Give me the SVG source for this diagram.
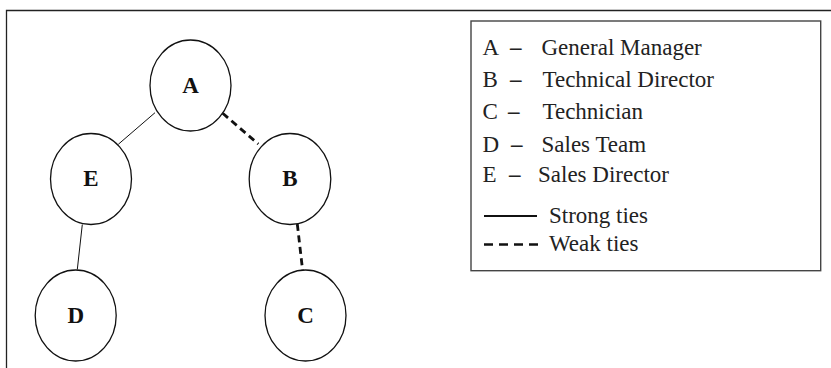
<svg xmlns="http://www.w3.org/2000/svg" width="831" height="368" viewBox="0 0 831 368">
<style>
.frame{fill:none;stroke:#222;stroke-width:1.3}
.node{fill:#fff;stroke:#111;stroke-width:1.3}
.strong{stroke:#111;stroke-width:1;fill:none}
.weak{stroke:#111;stroke-width:2.8;fill:none;stroke-dasharray:7 4.5}
.lbox{fill:#fff;stroke:#444;stroke-width:1.4}
</style>
<rect width="831" height="368" fill="#fff"/>
<path class="frame" d="M6.5,368 V10.5 H831"/>
<g id="connectors">
<line class="strong" x1="155" y1="112.7" x2="118.3" y2="144.3"/>
<line class="strong" x1="82.3" y1="224.5" x2="77.3" y2="269.5"/>
<line class="weak" x1="222.7" y1="113.3" x2="258.3" y2="144"/>
<line class="weak" x1="297.3" y1="224" x2="302.7" y2="271"/>
</g>
<g font-family="Liberation Serif, serif" font-weight="bold" font-size="23" fill="#111" text-anchor="middle">
<g id="node-A"><ellipse class="node" cx="190.5" cy="85.5" rx="40.5" ry="45.5"/><text x="190.5" y="93">A</text></g>
<g id="node-E"><ellipse class="node" cx="91" cy="179" rx="40.5" ry="45.5"/><text x="91" y="186">E</text></g>
<g id="node-B"><ellipse class="node" cx="290" cy="179" rx="40.8" ry="45.5"/><text x="290" y="186">B</text></g>
<g id="node-D"><ellipse class="node" cx="75.7" cy="315.5" rx="40.5" ry="45.5"/><text x="75.7" y="322.5">D</text></g>
<g id="node-C"><ellipse class="node" cx="305.5" cy="315.5" rx="40.5" ry="45.5"/><text x="305.5" y="322.5">C</text></g>
</g>
<g id="legend" font-family="Liberation Serif, serif" font-size="23" fill="#222">
<rect class="lbox" x="471" y="21" width="349.7" height="249.7"/>
<text y="55"><tspan x="482.5">A</tspan><tspan x="510" font-weight="bold">–</tspan><tspan x="541.5">General Manager</tspan></text>
<text y="87"><tspan x="482.5">B</tspan><tspan x="510" font-weight="bold">–</tspan><tspan x="542.5">Technical Director</tspan></text>
<text y="119"><tspan x="482.5">C</tspan><tspan x="508" font-weight="bold">–</tspan><tspan x="542.5">Technician</tspan></text>
<text y="151.5"><tspan x="482.5">D</tspan><tspan x="511" font-weight="bold">–</tspan><tspan x="541.5">Sales Team</tspan></text>
<text y="182"><tspan x="482.5">E</tspan><tspan x="509" font-weight="bold">–</tspan><tspan x="538">Sales Director</tspan></text>
<line x1="484" y1="216" x2="537" y2="216" stroke="#111" stroke-width="2.2"/>
<text x="549" y="222.5">Strong ties</text>
<line x1="484" y1="244.5" x2="539" y2="244.5" stroke="#111" stroke-width="2.4" stroke-dasharray="9 6"/>
<text x="549" y="250.5">Weak ties</text>
</g>
</svg>
